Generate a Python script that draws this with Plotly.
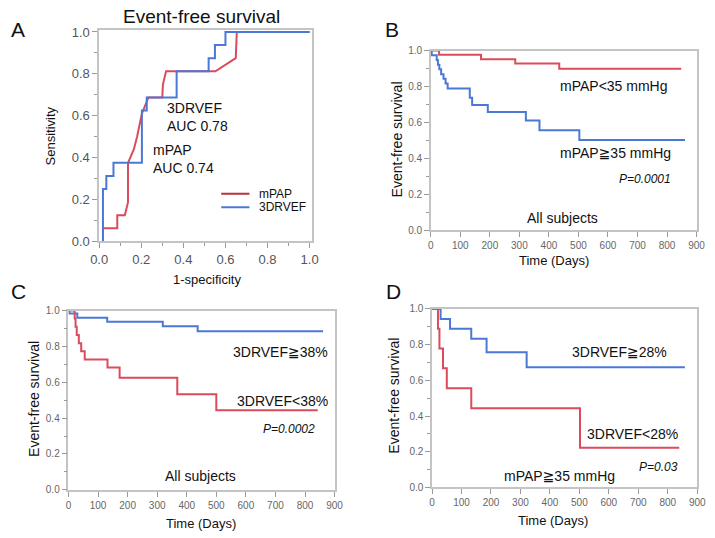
import plotly.graph_objects as go

# ---------------- Data ----------------
# Panel A: ROC curves (1-specificity, sensitivity)
roc_mpap_fpr = [0.018, 0.018, 0.086, 0.086, 0.122, 0.137, 0.137, 0.165, 0.18, 0.203, 0.234, 0.30, 0.303, 0.318, 0.526, 0.552, 0.649, 0.654, 1.0]
roc_mpap_tpr = [0.0, 0.0625, 0.0625, 0.125, 0.125, 0.1875, 0.375, 0.44, 0.50, 0.61, 0.6875, 0.6875, 0.75, 0.8125, 0.8125, 0.8125, 0.875, 1.0, 1.0]
roc_rvef_fpr = [0.018, 0.018, 0.034, 0.034, 0.068, 0.068, 0.203, 0.203, 0.226, 0.226, 0.368, 0.368, 0.52, 0.52, 0.55, 0.55, 0.60, 0.60, 1.0]
roc_rvef_tpr = [0.0, 0.25, 0.25, 0.3125, 0.3125, 0.375, 0.375, 0.625, 0.625, 0.6875, 0.6875, 0.8125, 0.8125, 0.875, 0.875, 0.9375, 0.9375, 1.0, 1.0]

# Panel B: Kaplan-Meier by mPAP (all subjects)
b_low_days = [0, 28, 170, 286, 435, 848]
b_low_surv = [1.0, 0.976, 0.952, 0.927, 0.898, 0.898]
b_high_days = [0, 3, 20, 24, 29, 35, 43, 50, 57, 132, 140, 193, 322, 368, 503, 861]
b_high_surv = [1.0, 0.974, 0.947, 0.921, 0.895, 0.868, 0.842, 0.816, 0.789, 0.737, 0.697, 0.658, 0.61, 0.556, 0.502, 0.502]

# Panel C: Kaplan-Meier by 3DRVEF 38% (all subjects)
c_high_days = [0, 3, 30, 131, 319, 437, 861]
c_high_surv = [1.0, 0.984, 0.96, 0.938, 0.913, 0.884, 0.884]
c_low_days = [0, 21, 24, 28, 35, 43, 55, 132, 173, 368, 500, 843]
c_low_surv = [1.0, 0.955, 0.909, 0.864, 0.818, 0.773, 0.727, 0.682, 0.625, 0.533, 0.444, 0.444]

# Panel D: Kaplan-Meier by 3DRVEF 28% (mPAP>=35)
d_high_days = [0, 29, 61, 133, 185, 321, 858]
d_high_surv = [1.0, 0.944, 0.889, 0.833, 0.757, 0.673, 0.673]
d_low_days = [0, 20, 25, 37, 50, 133, 502, 839]
d_low_surv = [1.0, 0.889, 0.778, 0.667, 0.556, 0.444, 0.222, 0.222]

roc_ticks = [0.0, 0.2, 0.4, 0.6, 0.8, 1.0]
day_ticks = [0, 100, 200, 300, 400, 500, 600, 700, 800, 900]
surv_ticks = [0.0, 0.2, 0.4, 0.6, 0.8, 1.0]

# ---------------- Styling ----------------
W, H = 715, 538
RED = "#dc4b5c"
BLUE = "#4a78d6"
LEG_RED = "#b8323c"
FRAME = "#c4c4c4"
TICKC = "#9a9a9a"
FONT = "Liberation Sans, Arial, DejaVu Sans, sans-serif"


def xdom(a, b):
    return [a / W, b / W]


def ydom(top, bottom):
    return [1 - bottom / H, 1 - top / H]


fig = go.Figure()

# Panel A
fig.add_trace(go.Scatter(x=roc_mpap_fpr, y=roc_mpap_tpr, mode="lines", line=dict(color=RED, width=2),
                         xaxis="x", yaxis="y", showlegend=False))
fig.add_trace(go.Scatter(x=roc_rvef_fpr, y=roc_rvef_tpr, mode="lines", line=dict(color=BLUE, width=2),
                         xaxis="x", yaxis="y", showlegend=False))
# Panel B
fig.add_trace(go.Scatter(x=b_low_days, y=b_low_surv, mode="lines", line=dict(color=RED, width=2, shape="hv"),
                         xaxis="x2", yaxis="y2", showlegend=False))
fig.add_trace(go.Scatter(x=b_high_days, y=b_high_surv, mode="lines", line=dict(color=BLUE, width=2, shape="hv"),
                         xaxis="x2", yaxis="y2", showlegend=False))
# Panel C
fig.add_trace(go.Scatter(x=c_high_days, y=c_high_surv, mode="lines", line=dict(color=BLUE, width=2, shape="hv"),
                         xaxis="x3", yaxis="y3", showlegend=False))
fig.add_trace(go.Scatter(x=c_low_days, y=c_low_surv, mode="lines", line=dict(color=RED, width=2, shape="hv"),
                         xaxis="x3", yaxis="y3", showlegend=False))
# Panel D
fig.add_trace(go.Scatter(x=d_high_days, y=d_high_surv, mode="lines", line=dict(color=BLUE, width=2, shape="hv"),
                         xaxis="x4", yaxis="y4", showlegend=False))
fig.add_trace(go.Scatter(x=d_low_days, y=d_low_surv, mode="lines", line=dict(color=RED, width=2, shape="hv"),
                         xaxis="x4", yaxis="y4", showlegend=False))


def axis_common(tickvals, fmt, size, color, minor_dtick=None):
    d = dict(
        showline=True, mirror=True, linecolor=FRAME, linewidth=1.5,
        showgrid=False, zeroline=False,
        ticks="outside", ticklen=5, tickcolor=TICKC, tickwidth=1,
        tickvals=tickvals, tickformat=fmt,
        tickfont=dict(family=FONT, size=size, color=color),
        fixedrange=True,
    )
    if minor_dtick is not None:
        d["minor"] = dict(dtick=minor_dtick, ticks="outside", ticklen=3, tickcolor=TICKC, tickwidth=1)
    return d


layout = dict(
    width=W, height=H, autosize=False,
    margin=dict(l=0, r=0, t=0, b=0),
    paper_bgcolor="white", plot_bgcolor="white",
    showlegend=False,
    font=dict(family=FONT, color="#111"),
)

# Panel A axes
layout["xaxis"] = dict(domain=xdom(92.5, 311), range=[0, 1.012], anchor="y",
                       **axis_common(roc_ticks, ".1f", 13, "#555", 0.1))
layout["yaxis"] = dict(domain=ydom(24.5, 241.7), range=[0, 1.01], anchor="x",
                       **axis_common(roc_ticks, ".1f", 13, "#555", 0.1))
# Panel B axes
layout["xaxis2"] = dict(domain=xdom(432.7, 705.3), range=[0, 900], anchor="y2",
                        **axis_common(day_ticks, "d", 10, "#666"))
layout["yaxis2"] = dict(domain=ydom(45.7, 230), range=[0, 1.0], anchor="x2",
                        **axis_common(surv_ticks, ".1f", 10, "#666", 0.1))
# Panel C axes
layout["xaxis3"] = dict(domain=xdom(61, 334), range=[0, 900], anchor="y3",
                        **axis_common(day_ticks, "d", 10, "#666"))
layout["yaxis3"] = dict(domain=ydom(312.7, 496.7), range=[0, 1.0], anchor="x3",
                        **axis_common(surv_ticks, ".1f", 10, "#666", 0.1))
# Panel D axes
layout["xaxis4"] = dict(domain=xdom(434, 706), range=[0, 900], anchor="y4",
                        **axis_common(day_ticks, "d", 10, "#666"))
layout["yaxis4"] = dict(domain=ydom(311, 494.3), range=[0, 1.0], anchor="x4",
                        **axis_common(surv_ticks, ".1f", 10, "#666", 0.1))

fig.update_layout(**layout)

ann = []


def txt(text, x, y, xref, yref, size=14, xanchor="left", italic=False, color="#111", angle=0):
    t = f"<i>{text}</i>" if italic else text
    ann.append(dict(text=t, x=x, y=y, xref=xref, yref=yref, showarrow=False,
                    xanchor=xanchor, yanchor="middle", align="left", textangle=angle,
                    font=dict(family=FONT, size=size, color=color)))


def ptxt(text, px, py, size=14, angle=0):
    txt(text, px / W, 1 - py / H, "paper", "paper", size, "center", angle=angle)


# Panel letters and title
ptxt("A", 9, 24, 21)
ptxt("B", 393, 24, 21)
ptxt("C", 10, 293, 21)
ptxt("D", 394, 293, 21)
ptxt("Event-free survival", 197, 11, 19)

# Axis titles
ptxt("Sensitivity", 43, 133, 13, -90)
ptxt("1-specificity", 203, 280.5, 13)
ptxt("Event-free survival", 398, 137, 14, -90)
ptxt("Time (Days)", 559, 261.5, 13)
ptxt("Event-free survival", 25, 403, 14, -90)
ptxt("Time (Days)", 197, 531, 13)
ptxt("Event-free survival", 395, 400, 14, -90)
ptxt("Time (Days)", 558, 528, 13)

# Panel A annotations
txt("3DRVEF<br>AUC 0.78", 0.3125, 0.594, "x", "y", 14)
txt("mPAP<br>AUC 0.74", 0.248, 0.395, "x", "y", 14)
# Panel A legend (manual)
fig.add_shape(type="line", xref="x", yref="y", x0=0.58, x1=0.714, y0=0.228, y1=0.228,
              line=dict(color=LEG_RED, width=2))
fig.add_shape(type="line", xref="x", yref="y", x0=0.58, x1=0.714, y0=0.163, y1=0.163,
              line=dict(color=BLUE, width=2))
txt("mPAP", 0.752, 0.228, "x", "y", 12)
txt("3DRVEF", 0.752, 0.163, "x", "y", 12)

# Panel B annotations
txt("mPAP&lt;35 mmHg", 430, 0.805, "x2", "y2", 14)
txt("mPAP≧35 mmHg", 430, 0.43, "x2", "y2", 14)
txt("P=0.0001", 727, 0.284, "x2", "y2", 12, "center", italic=True)
txt("All subjects", 446, 0.067, "x2", "y2", 14, "center")

# Panel C annotations
txt("3DRVEF≧38%", 551, 0.77, "x3", "y3", 14)
txt("3DRVEF&lt;38%", 564, 0.493, "x3", "y3", 14)
txt("P=0.0002", 747, 0.341, "x3", "y3", 12, "center", italic=True)
txt("All subjects", 448, 0.076, "x3", "y3", 14, "center")

# Panel D annotations
txt("3DRVEF≧28%", 467, 0.76, "x4", "y4", 14)
txt("3DRVEF&lt;28%", 520, 0.302, "x4", "y4", 14)
txt("P=0.03", 768, 0.116, "x4", "y4", 12, "center", italic=True)
txt("mPAP≧35 mmHg", 434, 0.063, "x4", "y4", 14, "center")

fig.update_layout(annotations=ann)
fig.write_html("out.html",
               config={"displayModeBar": False},
               post_script="document.body.style.margin='0';document.body.style.overflow='hidden';")
